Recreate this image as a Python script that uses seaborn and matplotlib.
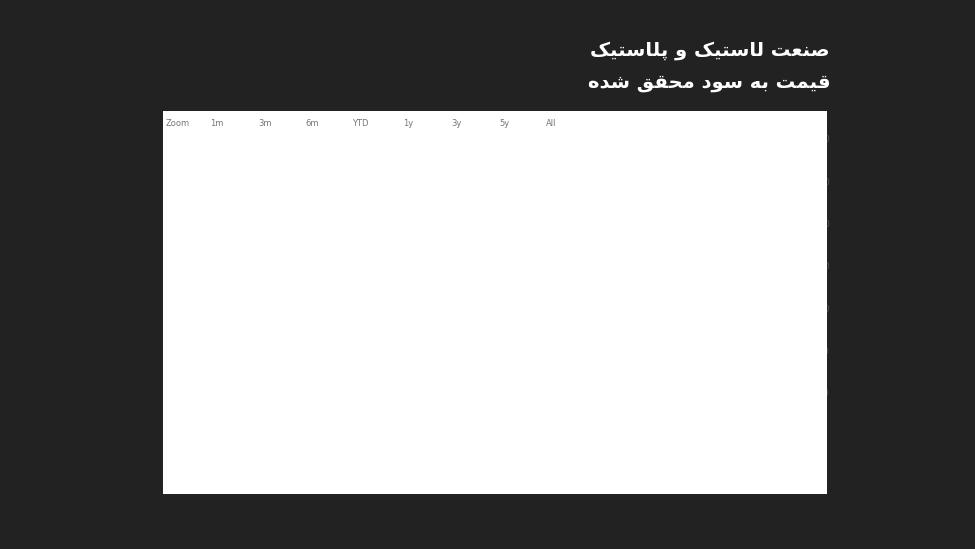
import matplotlib
matplotlib.use("Agg")
import matplotlib.pyplot as plt
import seaborn as sns
import pandas as pd
from matplotlib.patches import Rectangle

# ---- data (day index, price-to-earnings) ----
days = [8, 13, 18, 24, 32, 40, 45, 50, 56, 61, 66, 70, 75, 78, 83, 88, 91, 94, 101, 107,
        117, 126, 133, 139, 146, 150, 152, 160, 171, 181, 189, 200, 211, 222, 227, 235, 240, 246,
        253, 262, 275, 286, 302, 318, 321, 328, 344, 360, 376, 384, 400, 416, 432, 440,
        448, 456, 464, 480, 500, 516, 532, 546, 560, 576, 600, 616, 632, 648, 672, 688,
        704, 720, 733, 748, 760, 776, 792, 808, 824, 840, 856, 870, 884, 898, 912, 924,
        936, 948, 960, 972, 984]
values = [23.8, 21.7, 24.0, 24.3, 24.6, 25.8, 27.3, 30.5, 31.6, 35.3, 33.3, 32.7, 35.3, 35.6, 30.9,
          26.0, 21.4, 20.2, 19.6, 18.7, 18.2, 18.5, 18.7, 17.9, 17.3, 16.3, 11.4, 11.0, 10.8, 10.4,
          11.4, 11.6, 11.4, 11.6, 10.8, 9.6, 8.0, 8.2, 8.8, 9.5, 10.2, 10.8, 10.8, 10.8, 8.0,
          7.6, 7.3, 6.9, 6.9, 7.2, 6.6, 6.6, 6.2, 5.7, 5.5, 5.1, 5.3, 4.6, 5.0, 5.1, 4.9, 4.3,
          4.7, 5.1, 5.5, 5.7, 6.2, 6.2, 6.5, 6.3, 6.4, 7.3, 7.7, 7.5, 7.3, 6.9, 6.6, 5.7, 4.9,
          4.7, 5.1, 5.2, 5.7, 5.8, 6.2, 6.3, 6.6, 6.8, 7.2, 6.8, 6.84]
tick_days = [50, 128, 218, 310, 392, 470, 555, 648, 720, 805, 891, 984]
tick_labels = ["فرو '02", "تیر '02", "مهر '02", "دی '02", "فرو '03", "تیر '03", "مهر '03",
               "دی '03", "فرو '04", "تیر '04", "مهر '04", "دی '04"]
y_ticks = [0, 5, 10, 15, 20, 25, 30, 35, 40]
buttons = ["Zoom", "1m", "3m", "6m", "YTD", "1y", "3y", "5y", "All"]
title_lines = ["صنعت لاستیک و پلاستیک", "قیمت به سود محقق شده"]
last_value = 6.84

# ---- minimal Persian shaping (presentation forms) ----
FORMS = {
    'ا': ('\uFE8D', '\uFE8E', None, None), 'د': ('\uFEA9', '\uFEAA', None, None),
    'ر': ('\uFEAD', '\uFEAE', None, None), 'و': ('\uFEED', '\uFEEE', None, None),
    'ب': ('\uFE8F', '\uFE90', '\uFE91', '\uFE92'), 'پ': ('\uFB56', '\uFB57', '\uFB58', '\uFB59'),
    'ت': ('\uFE95', '\uFE96', '\uFE97', '\uFE98'), 'ح': ('\uFEA1', '\uFEA2', '\uFEA3', '\uFEA4'),
    'س': ('\uFEB1', '\uFEB2', '\uFEB3', '\uFEB4'), 'ش': ('\uFEB5', '\uFEB6', '\uFEB7', '\uFEB8'),
    'ص': ('\uFEB9', '\uFEBA', '\uFEBB', '\uFEBC'), 'ع': ('\uFEC9', '\uFECA', '\uFECB', '\uFECC'),
    'ف': ('\uFED1', '\uFED2', '\uFED3', '\uFED4'), 'ق': ('\uFED5', '\uFED6', '\uFED7', '\uFED8'),
    'ک': ('\uFB8E', '\uFB8F', '\uFB90', '\uFB91'), 'ل': ('\uFEDD', '\uFEDE', '\uFEDF', '\uFEE0'),
    'م': ('\uFEE1', '\uFEE2', '\uFEE3', '\uFEE4'), 'ن': ('\uFEE5', '\uFEE6', '\uFEE7', '\uFEE8'),
    'ه': ('\uFEE9', '\uFEEA', '\uFEEB', '\uFEEC'), 'ی': ('\uFBFC', '\uFBFD', '\uFBFE', '\uFBFF'),
}

def shape_word(w):
    out = []
    for i, c in enumerate(w):
        if c not in FORMS:
            out.append(c); continue
        prev = w[i - 1] if i > 0 else None
        nxt = w[i + 1] if i + 1 < len(w) else None
        jp = prev in FORMS and FORMS[prev][2] is not None
        jn = nxt in FORMS and FORMS[c][2] is not None
        iso, fin, ini, med = FORMS[c]
        if jp and jn: out.append(med)
        elif jp: out.append(fin)
        elif jn: out.append(ini)
        else: out.append(iso)
    return ''.join(out)

def rtl(s):
    words = s.split(' ')
    res = []
    for w in words:
        if any(ch in FORMS for ch in w):
            res.append(shape_word(w)[::-1])
        else:
            res.append(w)
    return ' '.join(res[::-1])

sns.set_theme(style="white")
plt.rcParams['font.family'] = ['DejaVu Sans']

df = pd.DataFrame({"day": days, "pe": values})

fig = plt.figure(figsize=(9.75, 5.49), dpi=100)
fig.patch.set_facecolor("#222222")
fig.patches.append(Rectangle((163 / 975, 55 / 549), 664 / 975, 383 / 549,
                             transform=fig.transFigure, facecolor="white", edgecolor="none", zorder=0))

ax = fig.add_axes([165 / 975, 72 / 549, 635 / 975, 338 / 549])
ax.set_facecolor("white")
sns.lineplot(data=df, x="day", y="pe", ax=ax, color="#d81e1e", linewidth=1.5)
ax.set_xlim(0, 985)
ax.set_ylim(0, 40)
ax.yaxis.tick_right()
ax.set_yticks(y_ticks)
ax.set_yticklabels([f"{v:.2f}" for v in y_ticks], fontsize=6.5, color="#555555")
ax.tick_params(axis='y', length=0, pad=3)
ax.grid(axis='y', color="#dddddd", linewidth=0.8)
ax.set_xticks(tick_days)
ax.set_xticklabels([rtl(t) for t in tick_labels], fontsize=5.5, color="#666666")
ax.tick_params(axis='x', length=3, color="#cccccc", pad=2, bottom=True)
ax.set_xlabel(""); ax.set_ylabel("")
for s in ["top", "left"]:
    ax.spines[s].set_visible(False)
ax.spines["right"].set_color("#d81e1e")
ax.spines["right"].set_linewidth(1.2)
ax.spines["bottom"].set_color("#cccccc")

ax.text(1.0, last_value, f"{last_value:.2f}", transform=ax.get_yaxis_transform(),
        ha="left", va="center", fontsize=6.5, color="white",
        bbox=dict(boxstyle="round,pad=0.2", fc="#e01010", ec="none"))
ax.text(0.015, 0.03, "BourseView.com", transform=ax.transAxes, fontsize=10,
        color="#eeeeee", fontweight="bold")

bx = [178, 217, 265, 312, 360, 408, 456, 504, 551]
for x, b in zip(bx, buttons):
    fig.text(x / 975, 1 - 124 / 549, b, fontsize=6, color="#777777", ha="center", va="center")

fig.text(830 / 975, 1 - 50 / 549, rtl(title_lines[0]), color="white", fontsize=14,
         fontweight="bold", ha="right", va="center")
fig.text(830 / 975, 1 - 82 / 549, rtl(title_lines[1]), color="white", fontsize=14,
         fontweight="bold", ha="right", va="center")

fig.savefig("out.png", dpi=100, facecolor=fig.get_facecolor())
